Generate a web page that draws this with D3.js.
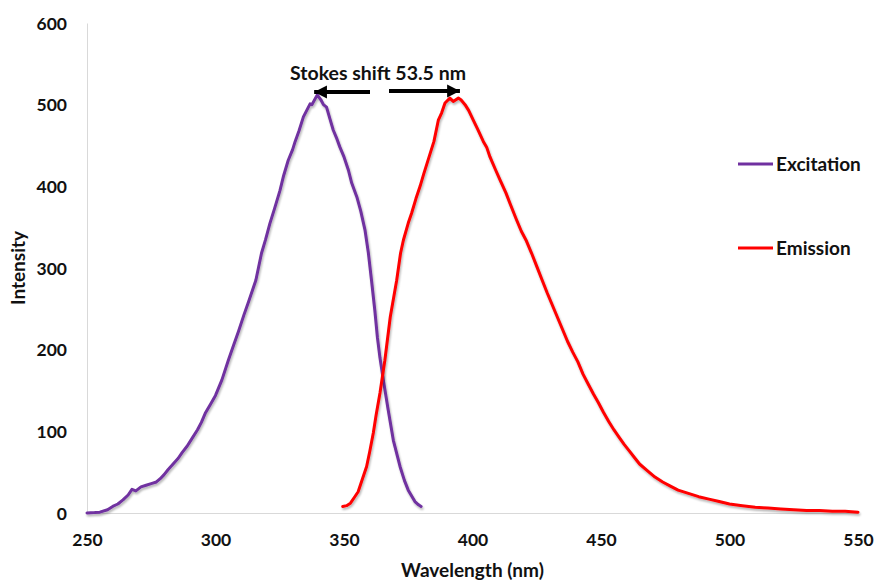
<!DOCTYPE html>
<html>
<head>
<meta charset="utf-8">
<script src="https://cdn.jsdelivr.net/npm/d3@7"></script>
<style>
  html, body { margin: 0; padding: 0; background: #fff; }
  svg text { font-family: Lato, "Open Sans", sans-serif; font-weight: 700; fill: #111; }
</style>
</head>
<body>
<svg id="chart" width="880" height="582"></svg>
<script>
// Excitation spectrum: wavelength (nm) and intensity
const excitationWavelength = [250, 253, 255, 258, 260, 262, 264, 266, 267.5, 269, 271, 273, 275, 277, 278.5, 280, 281.5, 283.5, 285.5, 287, 289, 291, 293, 294.5, 296, 298, 300, 302.5, 305, 307, 309, 311, 313, 315.7, 317.9, 319.5, 321.2, 323, 325.1, 326.5, 328.3, 330, 331, 332.5, 334.2, 335, 336.8, 337.5, 339.6, 341, 342, 343.2, 344.5, 345.8, 347, 348.4, 350, 351.7, 353, 355, 356.5, 358.2, 359.5, 360.7, 362, 363, 364, 365.3, 367.2, 369.2, 371.8, 373.5, 375, 377.6, 379, 380];
const excitationIntensity  = [0, 0.5, 1, 4, 8, 11, 16, 22, 29, 27, 32, 34, 36, 38, 42, 47, 53, 60, 67, 74, 82, 92, 102, 111, 122, 133, 144, 163, 187, 205, 223, 242, 260, 285, 318, 335, 355, 373, 395, 413, 432, 445, 455, 468, 485, 490, 501, 500, 512, 506, 500, 497, 483, 469, 460, 448, 436, 420, 404, 387, 370, 346, 318, 285, 248, 215, 190, 163, 126, 89, 57, 40, 28, 14, 10, 8];

// Emission spectrum: wavelength (nm) and intensity
const emissionWavelength = [349.5, 351, 352.5, 354, 355.5, 357, 358.8, 360, 361.4, 362.5, 364, 365.9, 368, 370.5, 372, 373.1, 375, 376.3, 378, 379.6, 381, 383.5, 385, 386.7, 388, 389.3, 391.2, 392.5, 394.5, 395.5, 397.1, 398.5, 400.3, 402, 404.2, 405.5, 406.8, 409, 410.7, 413, 414.6, 417, 419, 421, 423, 425, 427, 429, 431, 433, 435, 437, 439, 441, 443, 445, 447, 449, 451, 453, 455, 457, 459, 461, 463, 465, 468, 471, 474, 477, 480, 484, 488, 492, 496, 500, 505, 510, 515, 520, 525, 530, 535, 540, 545, 550];
const emissionIntensity  = [8, 9, 12, 19, 26, 40, 57, 75, 98, 120, 147, 187, 240, 285, 318, 334, 355, 367, 385, 400, 415, 440, 455, 481, 490, 502, 508, 504, 508, 506, 500, 493, 481, 470, 455, 448, 436, 420, 408, 392, 379, 360, 345, 333, 318, 302, 286, 270, 255, 240, 225, 210, 197, 185, 170, 158, 146, 135, 123, 112, 102, 93, 84, 76, 68, 60, 52, 44, 38, 33, 28, 24, 20, 17, 14, 11, 9, 7, 6, 5, 4, 3, 3, 2, 2, 1];

const xTicks = [250, 300, 350, 400, 450, 500, 550];
const yTicks = [0, 100, 200, 300, 400, 500, 600];

const seriesNames  = ["Excitation", "Emission"];
const seriesColors = ["#7030A0", "#FF0000"];

// Peak positions the Stokes-shift arrows point to
const excitationPeak = [338, 512];
const emissionPeak   = [395.5, 512];
const annotationText = "Stokes shift 53.5 nm";

const svg = d3.select("#chart");
const margin = { left: 87, right: 22, top: 23, bottom: 69 };
const W = 880, H = 582;

const x = d3.scaleLinear().domain([250, 550]).range([margin.left, W - margin.right]);
const y = d3.scaleLinear().domain([0, 600]).range([H - margin.bottom, margin.top]);

// soft drop shadow under the spectra lines
const defs = svg.append("defs");
const f = defs.append("filter").attr("id", "shadow").attr("x", "-5%").attr("y", "-5%").attr("width", "110%").attr("height", "115%");
f.append("feGaussianBlur").attr("in", "SourceAlpha").attr("stdDeviation", 1.2).attr("result", "b");
f.append("feOffset").attr("in", "b").attr("dx", 1).attr("dy", 1.5).attr("result", "o");
f.append("feComponentTransfer").attr("in", "o").attr("result", "s")
  .append("feFuncA").attr("type", "linear").attr("slope", 0.3);
const m = f.append("feMerge");
m.append("feMergeNode").attr("in", "s");
m.append("feMergeNode").attr("in", "SourceGraphic");

defs.append("marker").attr("id", "arrowhead")
  .attr("viewBox", "0 0 10 10").attr("refX", 10).attr("refY", 5)
  .attr("markerWidth", 3.2).attr("markerHeight", 3.6).attr("orient", "auto")
  .attr("markerUnits", "strokeWidth")
  .append("path").attr("d", "M0,0 L10,5 L0,10 Z").attr("fill", "#000");

// axes
const xAxis = d3.axisBottom(x).tickValues(xTicks).tickSize(0).tickPadding(17).tickFormat(d3.format("d"));
const yAxis = d3.axisLeft(y).tickValues(yTicks).tickSize(0).tickPadding(20).tickFormat(d3.format("d"));

const gx = svg.append("g").attr("transform", `translate(0,${y(0)})`).call(xAxis);
const gy = svg.append("g").attr("transform", `translate(${x(250)},0)`).call(yAxis);
[gx, gy].forEach(g => {
  g.select(".domain").attr("stroke", "#d9d9d9").attr("stroke-width", 1);
  g.selectAll("text").style("font-size", "17.5px").attr("fill", "#111");
});
gy.selectAll("text").attr("dy", "0.36em");
gx.selectAll("text").attr("dy", "0.9em");

svg.append("text").attr("x", (x(250) + x(550)) / 2).attr("y", 577)
  .attr("text-anchor", "middle").style("font-size", "19px").text("Wavelength (nm)");
svg.append("text").attr("transform", `translate(25,${(y(0) + y(600)) / 2}) rotate(-90)`)
  .attr("text-anchor", "middle").style("font-size", "19px").text("Intensity");

// spectra
const line = d3.line().x(d => x(d[0])).y(d => y(d[1]));
const series = [
  d3.zip(excitationWavelength, excitationIntensity),
  d3.zip(emissionWavelength, emissionIntensity)
];
series.forEach((pts, i) => {
  svg.append("path").datum(pts)
    .attr("d", line)
    .attr("fill", "none")
    .attr("stroke", seriesColors[i])
    .attr("stroke-width", 3)
    .attr("stroke-linejoin", "round")
    .attr("stroke-linecap", "round")
    .attr("filter", "url(#shadow)");
});

// legend
const legendY = [164, 248];
seriesNames.forEach((name, i) => {
  svg.append("line").attr("x1", 738).attr("x2", 773).attr("y1", legendY[i]).attr("y2", legendY[i])
    .attr("stroke", seriesColors[i]).attr("stroke-width", 3);
  svg.append("text").attr("x", 776).attr("y", legendY[i]).attr("dy", "0.36em")
    .style("font-size", "19px").text(name);
});

// Stokes shift annotation
svg.append("text").attr("x", 378).attr("y", 80)
  .attr("text-anchor", "middle").style("font-size", "19.5px").text(annotationText);
svg.append("line")
  .attr("x1", 370).attr("y1", 92).attr("x2", x(excitationPeak[0]) + 1).attr("y2", 92)
  .attr("stroke", "#000").attr("stroke-width", 4).attr("marker-end", "url(#arrowhead)");
svg.append("line")
  .attr("x1", 389).attr("y1", 91).attr("x2", x(emissionPeak[0]) - 1).attr("y2", 91)
  .attr("stroke", "#000").attr("stroke-width", 4).attr("marker-end", "url(#arrowhead)");
</script>
</body>
</html>
